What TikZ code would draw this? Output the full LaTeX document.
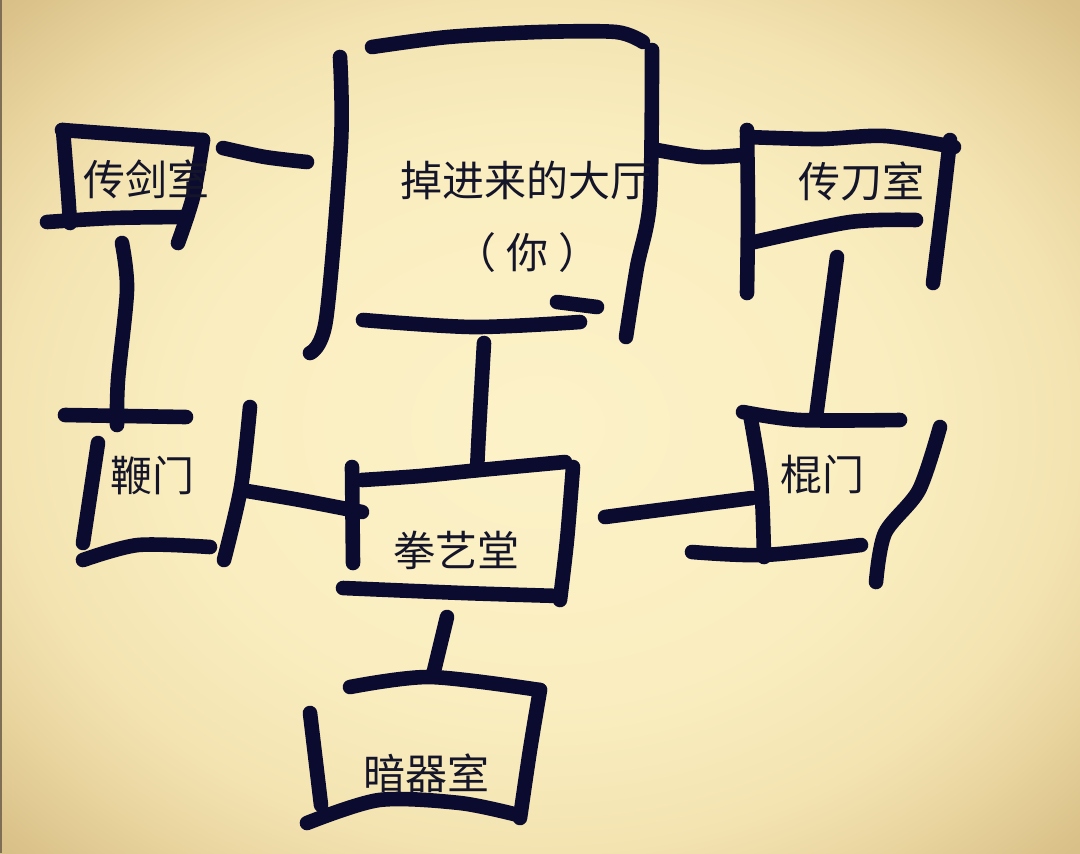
\documentclass[tikz,border=0pt]{standalone}
\usepackage{fontspec}
\newfontfamily\cjk{Noto Sans CJK SC}
\definecolor{bgA}{HTML}{FCF2C8}
\definecolor{bgB}{HTML}{FAEEC0}
\definecolor{bgC}{HTML}{F3E3B1}
\definecolor{bgD}{HTML}{E8D39D}
\definecolor{bgE}{HTML}{D9BF88}
\definecolor{ink}{HTML}{0B0B30}
\definecolor{txt}{HTML}{15152A}
\definecolor{edge}{HTML}{7D6E55}
\pgfdeclareradialshading{vign}{\pgfpoint{0bp}{0bp}}{color(0bp)=(bgA); color(16bp)=(bgB); color(25bp)=(bgC); color(30bp)=(bgD); color(35bp)=(bgE); color(50bp)=(bgE)}
\tikzset{
  wall/.style={draw=ink, line width=7.3pt, line cap=round, line join=round},
  label/.style={font=\cjk\fontsize{21pt}{24pt}\selectfont, text=txt, inner sep=0pt},
}
\begin{document}
\begin{tikzpicture}[x=0.5pt,y=-0.5pt]
\useasboundingbox (0,0) rectangle (1080,853);
\shade[shading=vign] (0,0) rectangle (1080,853);
\draw[edge, line width=1.5pt] (0.75,0) -- (0.75,853);

% 传剑室
\draw[wall] plot[smooth] coordinates {(62,130) (130,135) (203,140)};
\draw[wall] plot[smooth] coordinates {(63,130) (68,193) (70,223)};
\draw[wall] plot[smooth] coordinates {(47,222) (113,218) (187,217)};
\draw[wall] plot[smooth] coordinates {(203,140) (193,197) (178,243)};
\draw[wall] plot[smooth] coordinates {(223,148) (265,157) (307,162)};
% connector to 鞭门
\draw[wall] plot[smooth] coordinates {(122,243) (127,290) (118,380) (117,425)};

% hall
\draw[wall] plot[smooth] coordinates {(340,57) (341,143) (326,320) (310,353)};
\draw[wall] plot[smooth] coordinates {(372,47) (448,37) (540,32) (616,32) (643,42)};
\draw[wall] plot[smooth] coordinates {(652,50) (650,200) (637,267) (626,337)};
\draw[wall] plot[smooth] coordinates {(363,320) (473,327) (580,322)};
\draw[wall] plot[smooth] coordinates {(557,302) (597,307)};
\draw[wall] plot[smooth] coordinates {(484,343) (479,430) (477,470)};
\draw[wall] plot[smooth] coordinates {(657,150) (702,157) (743,155)};

% 传刀室
\draw[wall] plot[smooth] coordinates {(747,130) (748,210) (747,293)};
\draw[wall] plot[smooth] coordinates {(747,137) (820,139) (885,136) (954,147)};
\draw[wall] plot[smooth] coordinates {(950,140) (942,210) (933,283)};
\draw[wall] plot[smooth] coordinates {(750,243) (850,222) (916,220)};
\draw[wall] plot[smooth] coordinates {(837,257) (816,417)};

% 棍门
\draw[wall] plot[smooth] coordinates {(743,412) (800,420) (900,420)};
\draw[wall] plot[smooth] coordinates {(750,414) (761,483) (764,557)};
\draw[wall] plot[smooth] coordinates {(692,552) (764,555) (861,545)};
\draw[wall] plot[smooth] coordinates {(940,427) (919,490) (885,533) (876,582)};
\draw[wall] plot[smooth] coordinates {(605,517) (752,498)};

% 鞭门
\draw[wall] plot[smooth] coordinates {(65,415) (186,417)};
\draw[wall] plot[smooth] coordinates {(98,443) (83,543)};
\draw[wall] plot[smooth] coordinates {(83,560) (138,545) (210,547)};
\draw[wall] plot[smooth] coordinates {(250,407) (241,487) (224,560)};
\draw[wall] plot[smooth] coordinates {(241,490) (300,500) (362,512)};

% 拳艺堂
\draw[wall] plot[smooth] coordinates {(352,467) (353,563)};
\draw[wall] plot[smooth] coordinates {(362,480) (420,476) (480,470) (565,462)};
\draw[wall] plot[smooth] coordinates {(573,467) (567,540) (560,600)};
\draw[wall] plot[smooth] coordinates {(343,588) (463,593) (560,596)};
\draw[wall] plot[smooth] coordinates {(447,617) (433,675)};

% 暗器室
\draw[wall] plot[smooth] coordinates {(350,687) (430,677) (540,690)};
\draw[wall] plot[smooth] coordinates {(540,690) (530,750) (520,818)};
\draw[wall] plot[smooth] coordinates {(310,713) (321,805)};
\draw[wall] plot[smooth] coordinates {(307,823) (379,800) (460,803) (518,815)};

% labels
\node[label] (jian) at (146,179) {传剑室};
\node[label] (hall) at (526,180) {掉进来的大厅};
\node[label] (you) at (527,253) {（\hspace{5pt}你\hspace{5pt}）};
\node[label] (dao) at (861,181) {传刀室};
\node[label] (bian) at (152,476) {鞭门};
\node[label] (gun) at (822,475) {棍门};
\node[label] (quan) at (456,550) {拳艺堂};
\node[label] (anqi) at (426,773) {暗器室};
\end{tikzpicture}
\end{document}
